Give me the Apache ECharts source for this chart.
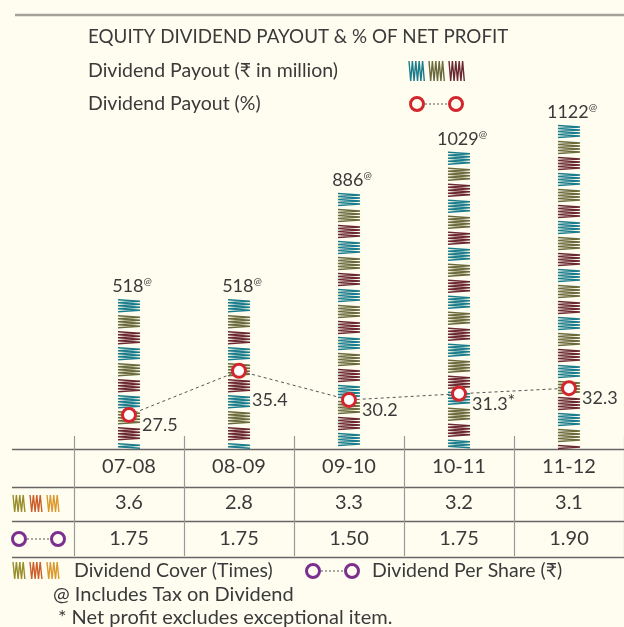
<!DOCTYPE html>
<html lang="en">
<head>
    <meta charset="UTF-8">
    <title>Equity Dividend Payout</title>
    <script src="https://cdn.jsdelivr.net/npm/echarts@6/dist/echarts.min.js"></script>
    <style>
        html, body { margin: 0; padding: 0; background: #fffdf0; }
    </style>
</head>
<body>
    <div id="main" style="width: 624px;height: 627px;"></div>
    <script>
        // data
        let years = ['07-08', '08-09', '09-10', '10-11', '11-12'];
        let payout = [518, 518, 886, 1029, 1122];          // ₹ in million
        let payoutPct = [27.5, 35.4, 30.2, 31.3, 32.3];    // % of net profit
        let cover = ['3.6', '2.8', '3.3', '3.2', '3.1'];   // times
        let dps = ['1.75', '1.75', '1.50', '1.75', '1.90']; // ₹ per share

        const FONT = 'Lato, "Noto Sans", sans-serif';
        const TXT = '#3a3a3a';
        const barColors = ['#1b7d8c', '#6a6a3c', '#6b2830'];
        const coverColors = ['#9a8e2c', '#cc5e2a', '#dc9a2e'];

        // little zigzag swatches for the legend icons
        function zigIcon(colors, bw, h, gap) {
            let c = document.createElement('canvas');
            c.width = colors.length * (bw + gap);
            c.height = h;
            let ctx = c.getContext('2d');
            ctx.lineWidth = 1.4;
            colors.forEach((col, i) => {
                let bx = i * (bw + gap);
                ctx.strokeStyle = col;
                ctx.beginPath();
                let top = true;
                for (let x = bx + 1; x <= bx + bw; x += 1.7) {
                    if (x === bx + 1) ctx.moveTo(x, top ? 0 : h);
                    else ctx.lineTo(x, top ? 0 : h);
                    top = !top;
                }
                ctx.stroke();
            });
            return c;
        }
        let payIcon = zigIcon(barColors, 17, 20, 3);
        let coverIcon = zigIcon(coverColors, 14, 17, 3);

        function ringPair(x, y, color) {
            return [
                { type: 'line', shape: { x1: x + 8, y1: y, x2: x + 31, y2: y }, style: { stroke: '#555', lineWidth: 1, lineDash: [2, 2] } },
                { type: 'circle', shape: { cx: x, cy: y, r: 6.5 }, style: { stroke: color, lineWidth: 3, fill: 'none' } },
                { type: 'circle', shape: { cx: x + 39, cy: y, r: 6.5 }, style: { stroke: color, lineWidth: 3, fill: 'none' } }
            ];
        }

        function hline(y, x1) {
            return { type: 'line', shape: { x1: x1, y1: y, x2: 624, y2: y }, style: { stroke: '#666', lineWidth: 1.3 } };
        }

        function text(x, y, str, size) {
            return { type: 'text', x: x, y: y, style: { text: str, fill: TXT, font: size + 'px ' + FONT, verticalAlign: 'middle' } };
        }

        // zigzag bars drawn from the value axis
        function renderBar(params, api) {
            let top = api.coord([api.value(0), api.value(1)]);
            let base = api.coord([api.value(0), 0]);
            let w = 22, x0 = top[0] - w / 2;
            let children = [];
            let y = top[1], k = 0;
            while (y < base[1] - 1) {
                let yEnd = Math.min(y + 13, base[1]);
                let pts = [], left = true;
                for (let yy = y; yy <= yEnd + 0.01; yy += 1.5) {
                    pts.push([left ? x0 : x0 + w, yy]);
                    left = !left;
                }
                children.push({
                    type: 'polyline',
                    shape: { points: pts },
                    style: { stroke: barColors[k % 3], lineWidth: 1.5, fill: null }
                });
                y += 16;
                k++;
            }
            children.push({
                type: 'text',
                x: top[0] + 3,
                y: top[1] - 4,
                style: {
                    text: '{v|' + api.value(1) + '}{a|@}',
                    align: 'center',
                    verticalAlign: 'bottom',
                    rich: {
                        v: { fontSize: 18, fontFamily: FONT, fill: TXT },
                        a: { fontSize: 10, fontFamily: FONT, fill: TXT, padding: [0, 0, 9, 0] }
                    }
                }
            });
            return { type: 'group', children: children };
        }

        let myChart = echarts.init(document.getElementById('main'));

        let option = {
            backgroundColor: '#fffdf0',
            animation: false,
            textStyle: { fontFamily: FONT },
            grid: { left: 74, right: -2, top: 103, bottom: 178 },
            xAxis: [
                {
                    type: 'category', data: years,
                    axisLine: { show: false },
                    axisTick: { show: true, length: 107, lineStyle: { color: '#999', width: 1.2 } },
                    axisLabel: { fontSize: 20, color: TXT, margin: 8, fontFamily: FONT }
                },
                {
                    type: 'category', data: cover, position: 'bottom', offset: 36,
                    axisLine: { show: false }, axisTick: { show: false },
                    axisLabel: { fontSize: 20, color: TXT, margin: 8, fontFamily: FONT }
                },
                {
                    type: 'category', data: dps, position: 'bottom', offset: 72,
                    axisLine: { show: false }, axisTick: { show: false },
                    axisLabel: { fontSize: 20, color: TXT, margin: 8, fontFamily: FONT }
                },
                {
                    type: 'category', data: years, position: 'bottom',
                    axisLine: { show: false },
                    axisTick: { show: true, inside: true, length: 13, lineStyle: { color: '#999', width: 1.2 } },
                    axisLabel: { show: false }
                }
            ],
            yAxis: [
                { type: 'value', min: 0, max: 1200, show: false },
                { type: 'value', min: 21.4, max: 83.4, show: false }
            ],
            series: [
                {
                    name: 'Dividend Payout (₹ in million)',
                    type: 'custom',
                    renderItem: renderBar,
                    encode: { x: 0, y: 1 },
                    data: payout.map((v, i) => [i, v]),
                    z: 2
                },
                {
                    name: 'Dividend Payout (%)',
                    type: 'line',
                    yAxisIndex: 1,
                    data: payoutPct.map((v, i) => ({
                        value: v,
                        label: { offset: [0, i === 1 ? 29 : 10] }
                    })),
                    symbol: 'circle',
                    symbolSize: 13,
                    itemStyle: { color: '#fff', borderColor: '#d3262c', borderWidth: 3 },
                    lineStyle: { color: '#555', width: 1, type: [3, 3] },
                    label: {
                        show: true,
                        position: 'right',
                        distance: 5,
                        fontSize: 18,
                        color: TXT,
                        fontFamily: FONT,
                        formatter: p => p.dataIndex === 3 ? '{v|' + p.value + '}{s|*}' : String(p.value),
                        rich: {
                            v: { fontSize: 18, color: TXT, fontFamily: FONT },
                            s: { fontSize: 18, color: TXT, fontFamily: FONT, padding: [0, 0, 5, 0] }
                        }
                    },
                    z: 5
                }
            ],
            graphic: [
                { type: 'line', shape: { x1: 15, y1: 15, x2: 624, y2: 15 }, style: { stroke: '#a3a39b', lineWidth: 2.5 } },
                text(88, 37, 'EQUITY DIVIDEND PAYOUT & % OF NET PROFIT', 18.8),
                text(88, 71, 'Dividend Payout (₹ in million)', 19.5),
                text(88, 104, 'Dividend Payout (%)', 19.5),
                { type: 'image', x: 408, y: 61, style: { image: payIcon, width: payIcon.width, height: 20 } },
                ...ringPair(417, 104, '#d3262c'),
                hline(449.5, 12),
                hline(487.5, 12),
                hline(521.5, 12),
                hline(557.5, 12),
                { type: 'image', x: 12, y: 495, style: { image: coverIcon, width: coverIcon.width, height: 17 } },
                ...ringPair(19, 539, '#7b2f8e'),
                { type: 'image', x: 12, y: 562, style: { image: coverIcon, width: coverIcon.width, height: 17 } },
                text(74, 571, 'Dividend Cover (Times)', 19.5),
                ...ringPair(313, 571, '#7b2f8e'),
                text(372, 571, 'Dividend Per Share (₹)', 19.5),
                text(53, 595, '@ Includes Tax on Dividend', 20),
                text(58, 618, '* Net profit excludes exceptional item.', 20)
            ]
        };

        myChart.setOption(option);
    </script>
</body>
</html>
